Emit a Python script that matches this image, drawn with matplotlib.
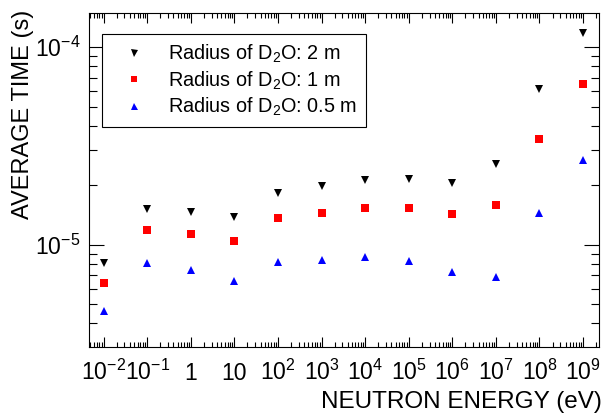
import matplotlib
matplotlib.use("Agg")
import matplotlib.pyplot as plt
from matplotlib.ticker import FixedLocator, FixedFormatter, LogLocator, NullFormatter

plt.rcParams['font.family'] = ['Liberation Sans', 'DejaVu Sans']
plt.rcParams['mathtext.default'] = 'regular'

# neutron energies (eV)
energy = [1e-2, 1e-1, 1, 10, 1e2, 1e3, 1e4, 1e5, 1e6, 1e7, 1e8, 1e9]

# average time (s) for each D2O radius
t_2m = [8.07e-6, 1.51e-5, 1.47e-5, 1.38e-5, 1.82e-5, 1.98e-5,
        2.12e-5, 2.14e-5, 2.06e-5, 2.56e-5, 6.17e-5, 1.18e-4]
t_1m = [6.44e-6, 1.19e-5, 1.13e-5, 1.05e-5, 1.36e-5, 1.44e-5,
        1.53e-5, 1.54e-5, 1.43e-5, 1.58e-5, 3.41e-5, 6.47e-5]
t_05m = [4.61e-6, 8.10e-6, 7.41e-6, 6.53e-6, 8.22e-6, 8.42e-6,
         8.63e-6, 8.32e-6, 7.29e-6, 6.85e-6, 1.45e-5, 2.68e-5]

labels = ['Radius of D$_2$O: 2 m', 'Radius of D$_2$O: 1 m', 'Radius of D$_2$O: 0.5 m']
xtick_labels = ['$10^{-2}$', '$10^{-1}$', '1', '10', '$10^2$', '$10^3$', '$10^4$',
                '$10^5$', '$10^6$', '$10^7$', '$10^8$', '$10^9$']

fig = plt.figure(figsize=(6.11, 4.13), dpi=100)
ax = fig.add_axes([0.145, 0.1605, 0.836, 0.8085])

ax.plot(energy, t_2m, linestyle='none', marker='v', color='black', markersize=5.6,
        markeredgewidth=0, label=labels[0])
ax.plot(energy, t_1m, linestyle='none', marker='s', color='red', markersize=5.2,
        markeredgewidth=0, label=labels[1])
ax.plot(energy, t_05m, linestyle='none', marker='^', color='blue', markersize=5.6,
        markeredgewidth=0, label=labels[2])

ax.set_xscale('log')
ax.set_yscale('log')
ax.set_xlim(4.53e-3, 2.37e9)
ax.set_ylim(3.05e-6, 1.49e-4)

ax.xaxis.set_major_locator(FixedLocator(energy))
ax.xaxis.set_major_formatter(FixedFormatter(xtick_labels))
ax.xaxis.set_minor_locator(LogLocator(base=10, subs=range(2, 10), numticks=30))
ax.xaxis.set_minor_formatter(NullFormatter())
ax.yaxis.set_minor_formatter(NullFormatter())

ax.tick_params(which='both', direction='in', top=True, right=True, labelsize=16.5, width=0.8)
ax.tick_params(axis='x', which='major', length=7.2, pad=24)
ax.tick_params(axis='x', which='minor', length=3.6)
ax.tick_params(axis='y', which='major', length=10.8, pad=6)
ax.tick_params(axis='y', which='minor', length=5.8)
for lab in ax.get_xticklabels():
    lab.set_va('baseline')
for s in ax.spines.values():
    s.set_linewidth(0.8)

ax.set_xlabel('NEUTRON ENERGY (eV)', fontsize=17.5, loc='right')
ax.xaxis.set_label_coords(1.005, -0.133)
ax.set_ylabel('AVERAGE TIME (s)', fontsize=17, loc='top')
ax.yaxis.set_label_coords(-0.107, 1.008)

leg = ax.legend(loc='upper left', bbox_to_anchor=(101.7 / 611, 1 - 34 / 413),
                bbox_transform=fig.transFigure, borderaxespad=0, fontsize=14.3,
                fancybox=False, framealpha=1, edgecolor='black', handlelength=2.4,
                handletextpad=0.5, labelspacing=0.2, borderpad=0.45, markerscale=0.9)
leg.get_frame().set_linewidth(0.8)

plt.savefig('out.png', dpi=100)
